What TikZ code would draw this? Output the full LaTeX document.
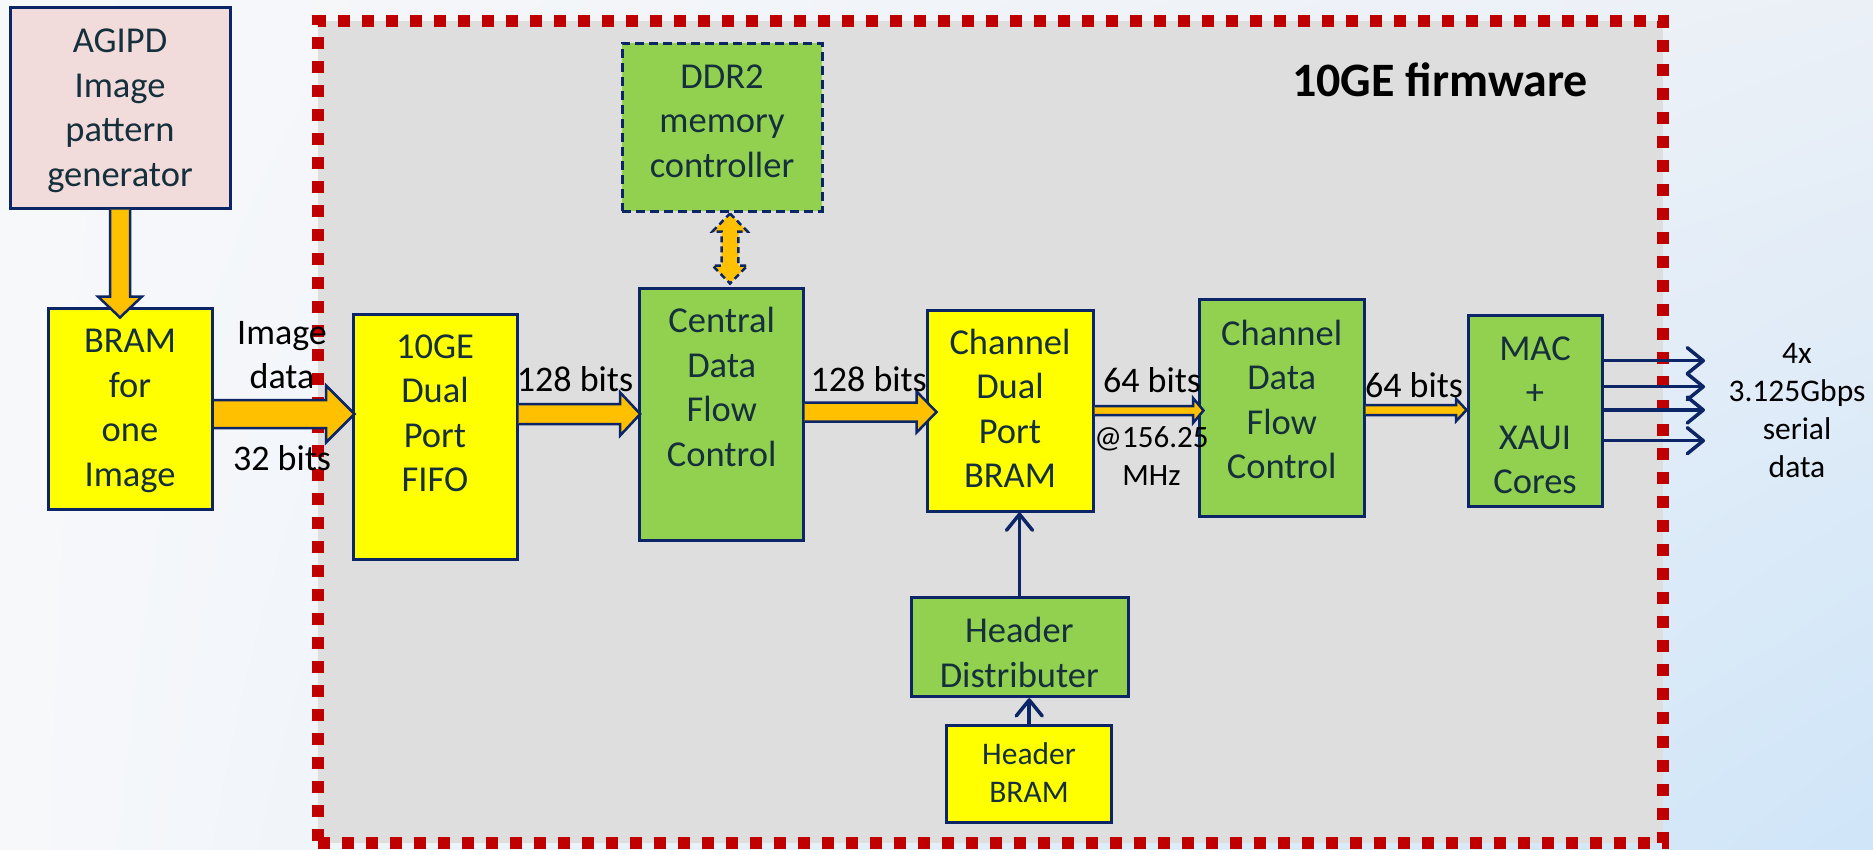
\documentclass[tikz,border=0pt]{standalone}
\usepackage{fontspec}
\setmainfont{Carlito}
\usetikzlibrary{arrows.meta,calc,shadings}
\definecolor{navy}{HTML}{0B2566}
\definecolor{txtc}{HTML}{15303C}
\definecolor{pinkf}{HTML}{F2DCDB}
\definecolor{yel}{HTML}{FFFF00}
\definecolor{grn}{HTML}{92D050}
\definecolor{org}{HTML}{FFC000}
\definecolor{framered}{HTML}{C00000}
\definecolor{fwgray}{HTML}{DEDEDE}
\definecolor{bgA}{HTML}{F7F8FA}
\definecolor{bgB}{HTML}{EBF0F7}
\definecolor{bgC}{HTML}{CFE5F8}
\newcommand\harrowblk[7]{%
  \draw[blkarrow] let \p1=(#1), \p2=(#2) in
   (\x1,{-#3pt+#4pt}) -- ({\x2+#7pt-#6pt},{-#3pt+#4pt}) -- ({\x2+#7pt-#6pt},{-#3pt+#5pt})
   -- ({\x2+#7pt},{-#3pt}) -- ({\x2+#7pt-#6pt},{-#3pt-#5pt}) -- ({\x2+#7pt-#6pt},{-#3pt-#4pt})
   -- (\x1,{-#3pt-#4pt});}
\begin{document}
\begin{tikzpicture}[x=1pt,y=-1pt,
  box/.style={draw=navy, line width=3pt, inner sep=0pt},
  txt/.style={inner sep=0pt, align=center, anchor=north, text=txtc,
    font=\fontsize{36.5pt}{44.5pt}\selectfont},
  smalltxt/.style={inner sep=0pt, align=center, anchor=north, text=txtc,
    font=\fontsize{31.5pt}{38.5pt}\selectfont},
  lbl/.style={inner sep=0pt, anchor=base, text=black,
    font=\fontsize{36pt}{44pt}\selectfont},
  blkarrow/.style={draw=navy, line width=2.5pt, fill=org, line join=miter},
  thinarrow/.style={draw=navy, line width=3.5pt, -{Straight Barb[length=16pt,width=26pt,round]}}
]
\useasboundingbox (0,0) rectangle (1873,849);
\shade[upper left=bgA, lower left=bgA, upper right=bgB, lower right=bgC] (0,0) rectangle (1873,849);

% firmware frame
\node[draw=framered, line width=12pt, dash pattern=on 12pt off 12pt, fill=fwgray,
  minimum width=1345pt, minimum height=822pt, inner sep=0pt] (fw) at (990.5,432) {};
\node[inner sep=0pt, anchor=base, font=\bfseries\fontsize{48pt}{58pt}\selectfont] (fwlabel) at (1440,96) {10GE firmware};

% boxes
\node[box, fill=pinkf, minimum width=220pt, minimum height=201pt] (agipd) at (120,107.5) {};
\node[box, fill=yel, minimum width=164.5pt, minimum height=201pt] (bram) at (130.25,408.5) {};
\node[box, fill=yel, minimum width=164pt, minimum height=245pt] (fifo) at (435,436.5) {};
\node[box, fill=grn, dash pattern=on 9pt off 5pt, minimum width=200pt, minimum height=168pt] (ddr) at (722,127) {};
\node[box, fill=grn, minimum width=164pt, minimum height=252pt] (central) at (721,414) {};
\node[box, fill=yel, minimum width=166pt, minimum height=201pt] (cbram) at (1010,410.5) {};
\node[box, fill=grn, minimum width=165pt, minimum height=216.7pt] (cdfc) at (1281.5,408.3) {};
\node[box, fill=grn, minimum width=134pt, minimum height=191pt] (mac) at (1535,410.5) {};
\node[box, fill=grn, minimum width=217pt, minimum height=99pt] (hd) at (1019.5,647.2) {};
\node[box, fill=yel, minimum width=165pt, minimum height=97pt] (hbram) at (1029.2,773.5) {};

% box texts
\node[txt] (t-agipd) at (120,21.5) {\strut AGIPD\\\strut Image\\\strut pattern\\\strut generator};
\node[txt] (t-bram) at (130,321.5) {\strut BRAM\\\strut for\\\strut one\\\strut Image};
\node[txt] (t-fifo) at (435,326.9) {\strut 10GE\\\strut Dual\\\strut Port\\\strut FIFO};
\node[txt] (t-ddr) at (722,56.9) {\strut DDR2\\\strut memory\\\strut controller};
\node[txt] (t-central) at (721.7,301.5) {\strut Central\\\strut Data\\\strut Flow\\\strut Control};
\node[txt] (t-cbram) at (1010,322.9) {\strut Channel\\\strut Dual\\\strut Port\\\strut BRAM};
\node[txt] (t-cdfc) at (1281.7,313.9) {\strut Channel\\\strut Data\\\strut Flow\\\strut Control};
\node[txt] (t-mac) at (1535,328.9) {\strut MAC\\\strut +\\\strut XAUI\\\strut Cores};
\node[txt] (t-hd) at (1019.3,611.5) {\strut Header\\\strut Distributer};
\node[smalltxt] (t-hbram) at (1029,737) {\strut Header\\\strut BRAM};

% block arrows
\draw[blkarrow] let \p1=(agipd.south), \p2=(bram.north) in
  ({\x1-10pt},\y1) -- ({\x1-10pt},{\y2+10pt}) -- ({\x1-22pt},{\y2+10pt}) -- (\x1,{\y2-11pt})
  -- ({\x1+22pt},{\y2+10pt}) -- ({\x1+10pt},{\y2+10pt}) -- ({\x1+10pt},\y1);
\harrowblk{bram.east}{fifo.west}{414}{14}{28.5}{28.5}{3}
\harrowblk{fifo.east}{central.west}{414}{10}{21.5}{20}{2.7}
\harrowblk{central.east}{cbram.west}{412}{9.5}{20.6}{20}{11}
\harrowblk{cbram.east}{cdfc.west}{410.5}{4.5}{12.5}{10.5}{6}
\harrowblk{cdfc.east}{mac.west}{410}{5}{11}{10.3}{0}

% DDR2 <-> Central double arrow
\draw[blkarrow, dash pattern=on 6pt off 4pt] let \p1=(ddr.south), \p2=(central.north) in
  ({\x1+8pt},{\y1-1pt}) -- ({\x1+25.5pt},{\y1-19pt}) -- ({\x1+16.3pt},{\y1-19pt})
  -- ({\x1+16.3pt},{\y2+21pt}) -- ({\x1+25.5pt},{\y2+21pt}) -- ({\x1+8pt},{\y2+3pt})
  -- ({\x1-9.5pt},{\y2+21pt}) -- ({\x1-0.3pt},{\y2+21pt}) -- ({\x1-0.3pt},{\y1-19pt})
  -- ({\x1-9.5pt},{\y1-19pt}) -- cycle;

% arrow labels
\node[lbl, align=center, anchor=north] (l-img) at (282,313.9) {\strut Image\\\strut data};
\node[lbl] (l-32) at (282,470) {32 bits};
\node[lbl] (l-128a) at (575,391.7) {128 bits};
\node[lbl] (l-128b) at (868.7,391.7) {128 bits};
\node[lbl] (l-64a) at (1152,392) {64 bits};
\node[lbl] (l-64b) at (1414,397) {64 bits};
\node[inner sep=0pt, align=center, anchor=north, text=black, font=\fontsize{31pt}{38pt}\selectfont]
  (l-mhz) at (1151.5,420.4) {\strut @156.25\\\strut MHz};

% header arrows
\draw[thinarrow] (hd.north) -- (hd.north |- cbram.south);
\draw[thinarrow] (hbram.north) -- (hbram.north |- hd.south);

% serial outputs
\coordinate (o1) at (1705,360.7);
\coordinate (o2) at (1705,386.7);
\coordinate (o3) at (1705,410);
\coordinate (o4) at (1705,440.7);
\draw[thinarrow] (mac.east |- o1) -- (o1);
\draw[thinarrow] (mac.east |- o2) -- (o2);
\draw[thinarrow] (mac.east |- o3) -- (o3);
\draw[thinarrow] (mac.east |- o4) -- (o4);
\node[inner sep=0pt, align=center, anchor=north, text=black, font=\fontsize{31.5pt}{38pt}\selectfont]
  (l-serial) at (1797,336.4) {\strut 4x\\\strut 3.125Gbps\\\strut serial\\\strut data};
\end{tikzpicture}
\end{document}
